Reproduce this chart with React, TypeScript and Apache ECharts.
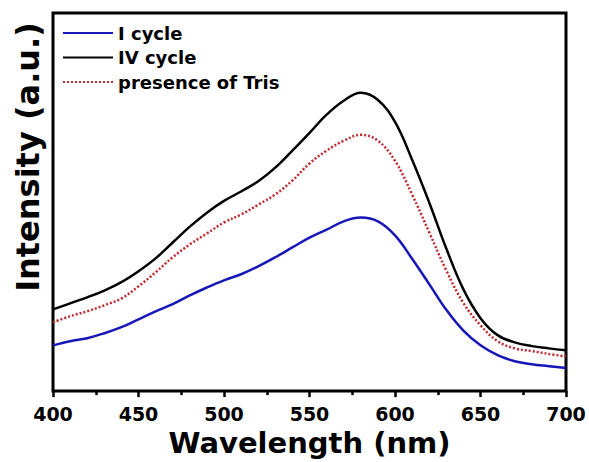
import React, { useEffect, useRef } from "react";
import * as echarts from "echarts";

const wavelengths = [400, 410, 420, 430, 440, 450, 460, 470, 480, 490, 500, 510, 520, 530, 540, 550, 560, 570, 580, 590, 600, 610, 620, 630, 640, 650, 660, 670, 680, 690, 700];

const cycleI = [12.1, 13.2, 14.0, 15.3, 16.9, 19.0, 21.1, 23.0, 25.3, 27.4, 29.3, 30.9, 33.0, 35.4, 38.0, 40.6, 42.7, 44.9, 45.9, 44.9, 41.2, 35.0, 28.3, 21.5, 16.0, 12.1, 9.5, 7.9, 7.1, 6.6, 6.1];

const cycleIV = [21.6, 23.2, 24.8, 26.6, 28.8, 31.7, 35.1, 39.3, 43.5, 47.2, 50.3, 52.8, 55.5, 59.1, 63.6, 68.3, 73.1, 76.8, 78.9, 77.0, 71.2, 61.2, 49.9, 37.7, 26.9, 19.3, 14.8, 12.9, 11.9, 11.3, 10.8];

const tris = [18.2, 19.8, 21.1, 22.7, 24.5, 27.7, 31.4, 35.4, 38.8, 41.7, 44.6, 46.7, 49.3, 52.0, 55.7, 60.2, 63.6, 66.2, 67.8, 66.2, 60.9, 52.0, 42.0, 31.9, 23.3, 17.4, 13.2, 11.3, 10.6, 9.8, 9.2];

const seriesNames = ["I cycle", "IV cycle", "presence of Tris"];
const xTicks = [400, 450, 500, 550, 600, 650, 700];

const FONT = "'DejaVu Sans', sans-serif";

export default function App() {
  const ref = useRef<HTMLDivElement>(null);
  useEffect(() => {
    if (!ref.current) return;
    const chart = echarts.init(ref.current, null, { renderer: "svg" });
    const pair = (ys: number[]) => wavelengths.map((w, i) => [w, ys[i]]);
    chart.setOption({
      animation: false,
      backgroundColor: "#ffffff",
      grid: {
        left: 53,
        right: 23,
        top: 13,
        bottom: 70,
        show: true,
        borderColor: "#000",
        borderWidth: 3,
        backgroundColor: "transparent",
      },
      legend: {
        orient: "vertical",
        left: 62,
        top: 23,
        itemWidth: 50,
        itemHeight: 14,
        itemGap: 4.5,
        padding: 0,
        data: seriesNames,
        itemStyle: { opacity: 0 },
        textStyle: {
          fontFamily: FONT,
          fontWeight: "bold",
          fontSize: 18,
          color: "#000",
          lineHeight: 20,
        },
      },
      xAxis: {
        type: "value",
        min: xTicks[0],
        max: xTicks[xTicks.length - 1],
        interval: 50,
        name: "Wavelength (nm)",
        nameLocation: "middle",
        nameGap: 36,
        nameTextStyle: {
          fontFamily: FONT,
          fontWeight: "bold",
          fontSize: 29,
          color: "#000",
        },
        axisLine: { show: false },
        axisTick: { show: true, length: 6, lineStyle: { color: "#000", width: 2.5 } },
        minorTick: { show: true, splitNumber: 2, length: 4, lineStyle: { color: "#000", width: 2.5 } },
        splitLine: { show: false },
        axisLabel: {
          margin: 13,
          fontFamily: FONT,
          fontWeight: "bold",
          fontSize: 19,
          color: "#000",
        },
      },
      yAxis: {
        type: "value",
        min: 0,
        max: 100,
        axisLine: { show: false },
        axisTick: { show: false },
        axisLabel: { show: false },
        splitLine: { show: false },
      },
      graphic: [
        {
          type: "text",
          x: 28,
          y: 157,
          rotation: Math.PI / 2,
          style: {
            text: "Intensity (a.u.)",
            fontFamily: FONT,
            fontWeight: "bold",
            fontSize: 32,
            fill: "#000",
            textAlign: "center",
            textVerticalAlign: "middle",
          },
        },
      ],
      series: [
        {
          name: seriesNames[0],
          type: "line",
          smooth: 0.4,
          showSymbol: false,
          symbol: "none",
          data: pair(cycleI),
          lineStyle: { color: "#1717b8", width: 2.5 },
          itemStyle: { color: "#1717b8" },
          z: 3,
        },
        {
          name: seriesNames[1],
          type: "line",
          smooth: 0.4,
          showSymbol: false,
          symbol: "none",
          data: pair(cycleIV),
          lineStyle: { color: "#000000", width: 2.5 },
          itemStyle: { color: "#000000" },
          z: 3,
        },
        {
          name: seriesNames[2],
          type: "line",
          smooth: 0.4,
          showSymbol: false,
          symbol: "none",
          data: pair(tris),
          lineStyle: { color: "#c0282d", width: 2.5, type: [2, 2] },
          itemStyle: { color: "#c0282d" },
          z: 3,
        },
      ],
    });
    return () => chart.dispose();
  }, []);
  return <div ref={ref} style={{ width: 589, height: 462, position: "absolute", left: 0, top: 0 }} />;
}
